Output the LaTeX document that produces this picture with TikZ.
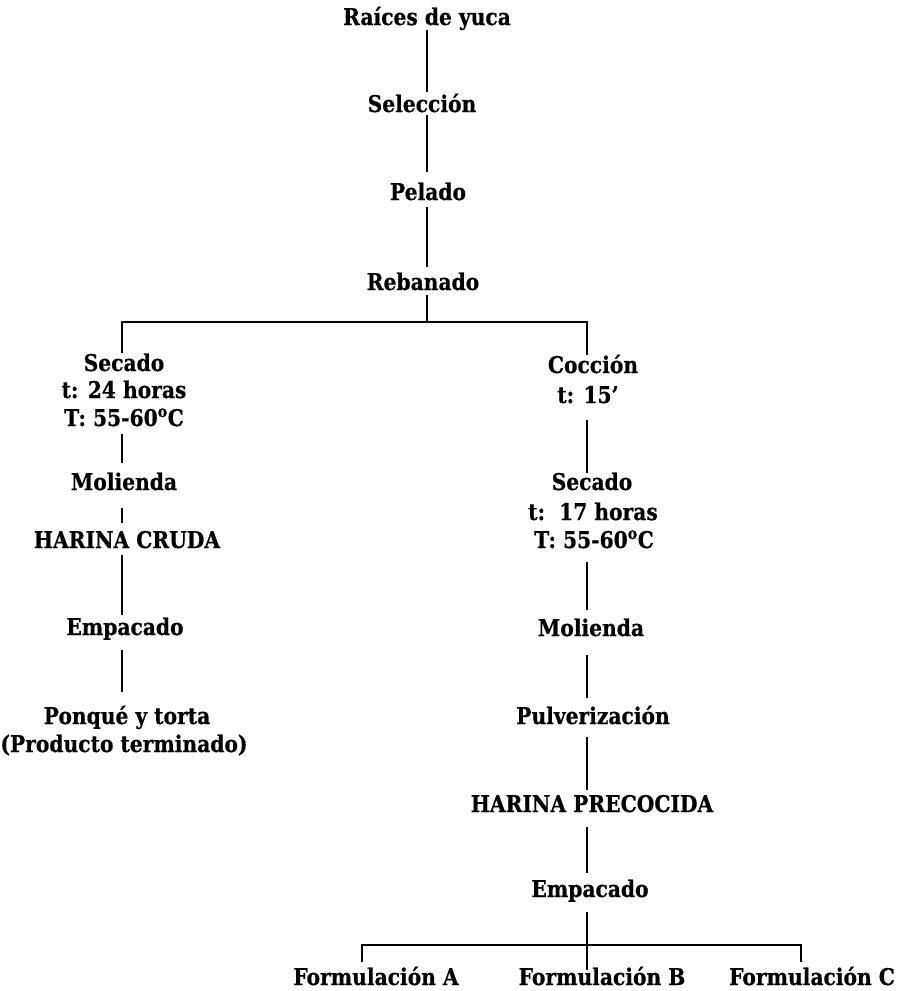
\documentclass[tikz,border=0pt]{standalone}
\usepackage{fontspec}
\setmainfont{DejaVu Serif}[FakeStretch=0.88,BoldFeatures={FakeBold=0.6}]
\usetikzlibrary{calc}
\begin{document}
\begin{tikzpicture}[x=1pt,y=-1pt,
  lbl/.style={anchor=base,inner sep=0pt,font=\fontsize{23}{27}\selectfont\bfseries},
  link/.style={line width=1.8pt,line cap=butt}]
\useasboundingbox (0,0) rectangle (897,991);
% columns
\coordinate (trunk) at (427,0);
\coordinate (colL) at (122,0);
\coordinate (colR) at (587,0);
\coordinate (tickA) at (362,0);
\coordinate (tickC) at (801,0);
% trunk
\node[lbl] (raices) at (427,25) {Raíces de yuca};
\node[lbl] (seleccion) at (422,112) {Selección};
\node[lbl] (pelado) at (428,200) {Pelado};
\node[lbl] (rebanado) at (423,290) {Rebanado};
\coordinate (split) at (427,322);
% left branch
\node[lbl] (secL1) at (124,371) {Secado};
\node[lbl] (secL2) at (124,398) {t: 24 horas};
\node[lbl] (secL3) at (124,426) {T: 55-60\textsuperscript{o}C};
\node[lbl] (molL) at (124,490) {Molienda};
\node[lbl] (harL) at (127,548) {HARINA CRUDA};
\node[lbl] (empL) at (125,635) {Empacado};
\node[lbl] (ponL1) at (127,724) {Ponqué y torta};
\node[lbl] (ponL2) at (124,752) {(Producto terminado)};
% right branch
\node[lbl] (coc1) at (593,373) {Cocción};
\node[lbl] (coc2) at (588,403) {t: 15’};
\node[lbl] (secR1) at (592,490) {Secado};
\node[lbl] (secR2) at (593,520) {t:\ \ 17 horas};
\node[lbl] (secR3) at (594,548) {T: 55-60\textsuperscript{o}C};
\node[lbl] (molR) at (591,636) {Molienda};
\node[lbl] (pulR) at (593,724) {Pulverización};
\node[lbl] (harR) at (592,812) {HARINA PRECOCIDA};
\node[lbl] (empR) at (590,897) {Empacado};
\node[lbl] (formA) at (376,985) {Formulación A};
\node[lbl] (formB) at (602,985) {Formulación B};
\node[lbl] (formC) at (812,985) {Formulación C};
% connectors: trunk
\draw[link] ($(raices.base -| trunk)+(0,5)$) -- ($(seleccion.base -| trunk)+(0,-20)$);
\draw[link] ($(seleccion.base -| trunk)+(0,3)$) -- ($(pelado.base -| trunk)+(0,-28)$);
\draw[link] ($(pelado.base -| trunk)+(0,7)$) -- ($(rebanado.base -| trunk)+(0,-23)$);
\draw[link] ($(rebanado.base -| trunk)+(0,5)$) -- (split);
\draw[link] ($(secL1.base -| colL)+(0,-18)$) |- (split) -| ($(coc1.base -| colR)+(0,-18)$);
% left
\draw[link] ($(secL3.base -| colL)+(0,8)$) -- ($(molL.base -| colL)+(0,-27)$);
\draw[link] ($(molL.base -| colL)+(0,18)$) -- ($(harL.base -| colL)+(0,-25)$);
\draw[link] ($(harL.base -| colL)+(0,7)$) -- ($(empL.base -| colL)+(0,-20)$);
\draw[link] ($(empL.base -| colL)+(0,15)$) -- ($(ponL1.base -| colL)+(0,-32)$);
% right
\draw[link] ($(coc2.base -| colR)+(0,17)$) -- ($(secR1.base -| colR)+(0,-17)$);
\draw[link] ($(secR3.base -| colR)+(0,14)$) -- ($(molR.base -| colR)+(0,-26)$);
\draw[link] ($(molR.base -| colR)+(0,19)$) -- ($(pulR.base -| colR)+(0,-26)$);
\draw[link] ($(pulR.base -| colR)+(0,13)$) -- ($(harR.base -| colR)+(0,-22)$);
\draw[link] ($(harR.base -| colR)+(0,15)$) -- ($(empR.base -| colR)+(0,-24)$);
\draw[link] ($(empR.base -| colR)+(0,15)$) -- ($(formB.base -| colR)+(0,-15)$);
\draw[link] ($(formA.base -| tickA)+(0,-23)$) |- ($(formC.base -| tickC)+(0,-40)$) -- ($(formC.base -| tickC)+(0,-23)$);
\end{tikzpicture}
\end{document}
